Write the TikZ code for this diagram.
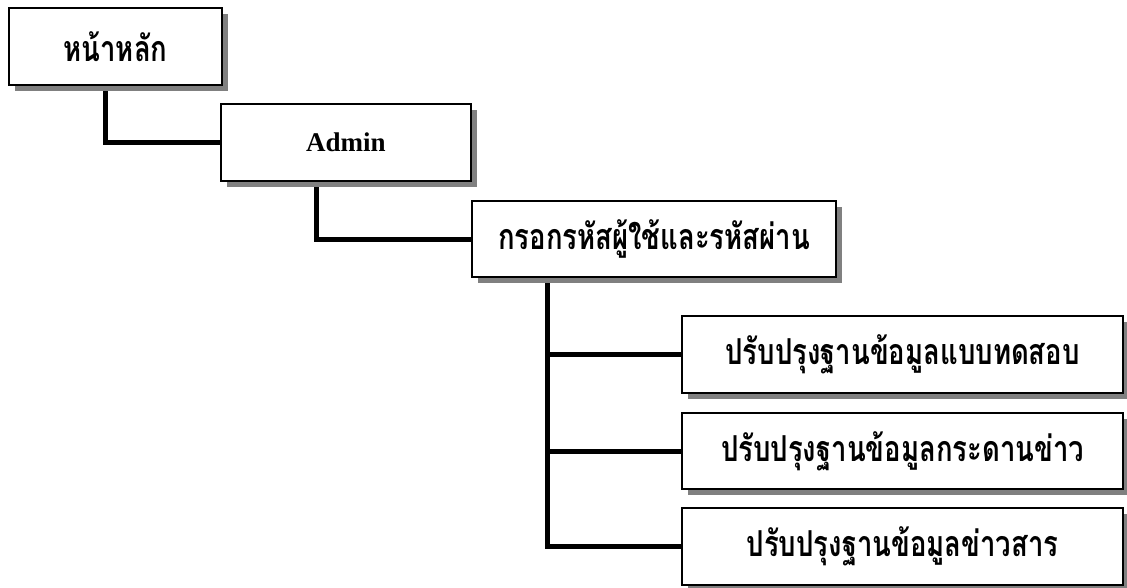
\documentclass[tikz,border=0pt]{standalone}
\usepackage{fontspec}
\setmainfont{Liberation Serif}
\newfontfamily\thai[Script=Thai]{Loma}
\usetikzlibrary{shadows,positioning}
\pgfdeclarelayer{bg}
\pgfsetlayers{bg,main}
\newcommand\thlabel[1]{\scalebox{1}[1.3]{\thai\bfseries\fontsize{27.5}{30}\selectfont #1}}
\tikzset{
  box/.style={draw=black, line width=1.8pt, fill=white, inner sep=0pt,
    drop shadow={shadow xshift=6pt, shadow yshift=-6pt, fill=black!50, opacity=1}},
  conn/.style={draw=black, line width=5pt},
}
\begin{document}
\begin{tikzpicture}[x=1pt,y=-1pt]
\useasboundingbox (0,0) rectangle (1127,587);
\node[box, minimum width=213pt, minimum height=77pt] (b1) at (115.5,46.5) {\thlabel{หน้าหลัก}};
\node[box, font=\bfseries\fontsize{27}{30}\selectfont, minimum width=250pt, minimum height=77pt] (b2) at (346,142.5) {Admin};
\node[box, minimum width=364pt, minimum height=76pt] (b3) at (654,239) {\thlabel{กรอกรหัสผู้ใช้และรหัสผ่าน}};
\node[box, minimum width=441pt, minimum height=77pt] (c1) at (902.5,354.5) {\thlabel{ปรับปรุงฐานข้อมูลแบบทดสอบ}};
\node[box, minimum width=441pt, minimum height=76pt] (c2) at (902.5,451) {\thlabel{ปรับปรุงฐานข้อมูลกระดานข่าว}};
\node[box, minimum width=441pt, minimum height=77pt] (c3) at (902.5,546.5) {\thlabel{ปรับปรุงฐานข้อมูลข่าวสาร}};
\begin{pgfonlayer}{bg}
\draw[conn] ([xshift=97pt]b1.south west) |- (b2.west);
\draw[conn] ([xshift=96pt]b2.south west) |- (b3.west);
\coordinate (t) at ([xshift=76pt]b3.south west);
\draw[conn] (t) |- (c3.west);
\draw[conn] (t) |- (c1.west);
\draw[conn] (t) |- (c2.west);
\end{pgfonlayer}
\end{tikzpicture}
\end{document}
